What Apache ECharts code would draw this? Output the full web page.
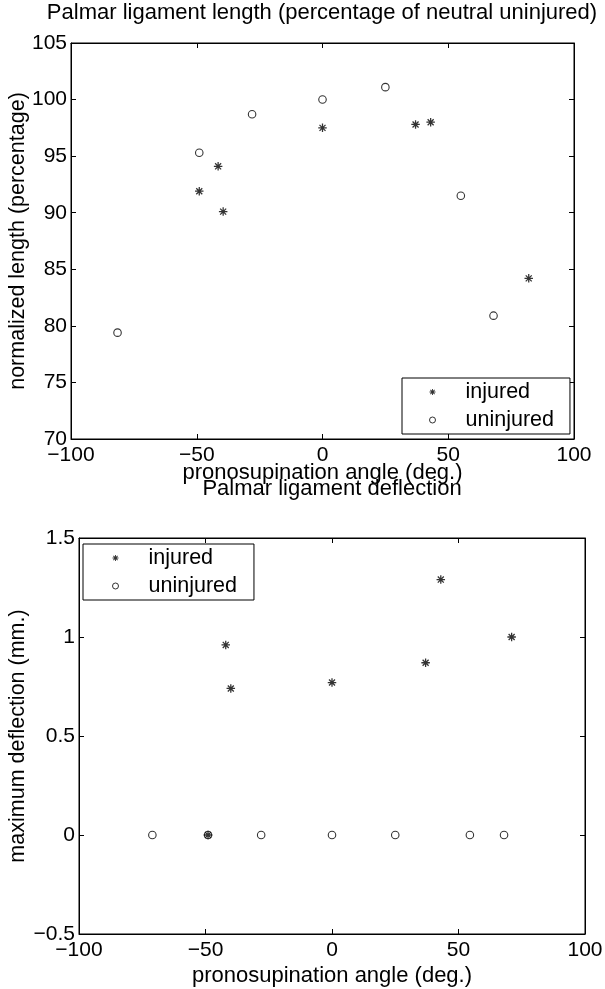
<!DOCTYPE html>
<html>
<head>
<meta charset="utf-8">
<script src="https://cdn.jsdelivr.net/npm/echarts@6/dist/echarts.min.js"></script>
<style>
html, body { margin: 0; padding: 0; background: #fff; }
#main { width: 605px; height: 989px; }
</style>
</head>
<body>
<div id="main"></div>
<script>
// top plot: ligament length (percentage)
var lenInjuredX = [-49, -41.5, -39.5, 0, 37, 43, 82];
var lenInjuredY = [91.9, 94.1, 90.1, 97.5, 97.8, 98.0, 84.2];
var lenUninjuredX = [-81.5, -49, -28, 0, 25, 55, 68];
var lenUninjuredY = [79.4, 95.3, 98.7, 100.0, 101.1, 91.5, 80.9];
// bottom plot: deflection (mm)
var defInjuredX = [-49, -42, -40, 0, 37, 43, 71];
var defInjuredY = [0, 0.96, 0.74, 0.77, 0.87, 1.29, 1.0];
var defUninjuredX = [-71, -49, -28, 0, 25, 54.5, 68];
var defUninjuredY = [0, 0, 0, 0, 0, 0, 0];

var FONT = 'Liberation Sans';

function pairs(xs, ys) {
  return xs.map(function (x, i) { return [x, ys[i]]; });
}

// asterisk marker made from 4 thin bars
function starPath() {
  var L = 10, w = 1.5, s = 'path://';
  [0, 45, 90, 135].forEach(function (deg) {
    var a = deg * Math.PI / 180;
    var dx = Math.cos(a), dy = Math.sin(a), nx = -dy, ny = dx;
    var p = [
      [-L * dx + w * nx, -L * dy + w * ny],
      [L * dx + w * nx, L * dy + w * ny],
      [L * dx - w * nx, L * dy - w * ny],
      [-L * dx - w * nx, -L * dy - w * ny]
    ];
    s += 'M' + p.map(function (q) { return q[0].toFixed(2) + ',' + q[1].toFixed(2); }).join('L') + 'Z';
  });
  return s;
}
var STAR = starPath();

function minus(v) { return String(v).replace('-', '\u2212'); }

function xAx(grid, pos, name, gap) {
  return {
    type: 'value', gridIndex: grid, position: pos,
    min: -100, max: 100, interval: 50,
    name: name, nameLocation: 'middle', nameGap: gap, nameMoveOverlap: false,
    nameTextStyle: { fontFamily: FONT, fontSize: 22, color: '#000' },
    axisLine: { show: true, onZero: false, lineStyle: { color: '#000', width: 1 } },
    axisTick: { show: true, inside: true, length: 5, lineStyle: { color: '#000' } },
    axisLabel: { show: pos === 'bottom', margin: 6, fontFamily: FONT, fontSize: 21, color: '#000', formatter: minus },
    splitLine: { show: false }
  };
}
function yAx(grid, pos, min, max, step, name, gap) {
  return {
    type: 'value', gridIndex: grid, position: pos,
    min: min, max: max, interval: step,
    name: name, nameLocation: 'middle', nameGap: gap, nameMoveOverlap: false,
    nameTextStyle: { fontFamily: FONT, fontSize: 21.5, color: '#000' },
    axisLine: { show: true, onZero: false, lineStyle: { color: '#000', width: 1 } },
    axisTick: { show: true, inside: true, length: 5, lineStyle: { color: '#000' } },
    axisLabel: { show: pos === 'left', margin: 4, fontFamily: FONT, fontSize: 21, color: '#000', formatter: minus },
    splitLine: { show: false }
  };
}

function starSeries(name, xi, yi, data) {
  return {
    name: name, type: 'scatter', xAxisIndex: xi, yAxisIndex: yi,
    symbol: STAR, symbolSize: 8.5,
    itemStyle: { color: '#000' },
    data: data
  };
}
function circSeries(name, xi, yi, data) {
  return {
    name: name, type: 'scatter', xAxisIndex: xi, yAxisIndex: yi,
    symbol: 'circle', symbolSize: 7.5,
    itemStyle: { color: 'transparent', borderColor: '#000', borderWidth: 1.1 },
    data: data
  };
}

function legendAt(left, top, padLeft, padRight) {
  return {
    orient: 'vertical', left: left, top: top,
    padding: [3, padRight, 3, padLeft], itemGap: 6,
    itemWidth: 56, itemHeight: 6,
    backgroundColor: '#fff', borderColor: '#000', borderWidth: 1,
    textStyle: { fontFamily: FONT, fontSize: 21.5, color: '#000' },
    data: [
      { name: 'injured', icon: STAR, itemStyle: { color: '#000' } },
      { name: 'uninjured', icon: 'circle', itemStyle: { color: '#fff', borderColor: '#000', borderWidth: 1 } }
    ],
    selectedMode: false
  };
}

var chart = echarts.init(document.getElementById('main'));
chart.setOption({
  animation: false,
  backgroundColor: '#fff',
  title: [
    { text: 'Palmar ligament length (percentage of neutral uninjured)', left: 322, top: 2, textAlign: 'center', padding: 0,
      textStyle: { fontFamily: FONT, fontSize: 22, fontWeight: 'normal', color: '#000' } },
    { text: 'Palmar ligament deflection', left: 332, top: 478, textAlign: 'center', padding: 0,
      textStyle: { fontFamily: FONT, fontSize: 22, fontWeight: 'normal', color: '#000' } }
  ],
  grid: [
    { left: 71, top: 43, width: 503, height: 396, outerBoundsMode: 'none', containLabel: false,
      show: true, borderColor: '#000', borderWidth: 1 },
    { left: 79, top: 538, width: 506, height: 396, outerBoundsMode: 'none', containLabel: false,
      show: true, borderColor: '#000', borderWidth: 1 }
  ],
  xAxis: [
    xAx(0, 'bottom', 'pronosupination angle (deg.)', 23),
    xAx(1, 'bottom', 'pronosupination angle (deg.)', 31),
    xAx(0, 'top', '', 0),
    xAx(1, 'top', '', 0)
  ],
  yAxis: [
    yAx(0, 'left', 70, 105, 5, 'normalized length (percentage)', 42),
    yAx(1, 'left', -0.5, 1.5, 0.5, 'maximum deflection (mm.)', 50),
    yAx(0, 'right', 70, 105, 5, '', 0),
    yAx(1, 'right', -0.5, 1.5, 0.5, '', 0)
  ],
  legend: [legendAt(402, 378, 27, 16), legendAt(83, 544, 29, 17)],
  series: [
    starSeries('injured', 0, 0, pairs(lenInjuredX, lenInjuredY)),
    circSeries('uninjured', 0, 0, pairs(lenUninjuredX, lenUninjuredY)),
    starSeries('injured', 1, 1, pairs(defInjuredX, defInjuredY)),
    circSeries('uninjured', 1, 1, pairs(defUninjuredX, defUninjuredY))
  ]
});
</script>
</body>
</html>
